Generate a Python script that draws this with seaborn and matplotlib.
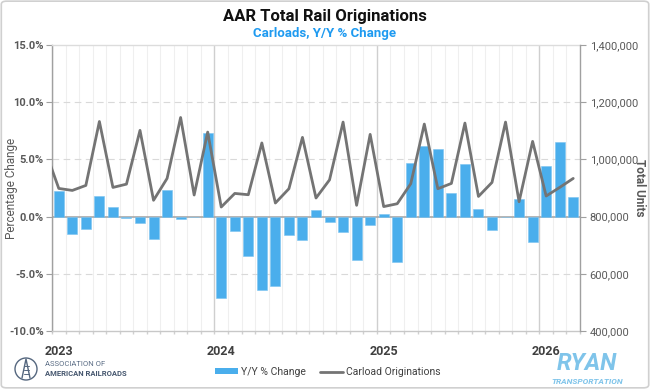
import matplotlib
matplotlib.use("Agg")
import matplotlib.pyplot as plt
import seaborn as sns
import pandas as pd
from matplotlib.patches import FancyBboxPatch, Circle, Patch
from matplotlib.lines import Line2D
from matplotlib import font_manager

# ---------------- data ----------------
months = pd.date_range("2023-01-01", periods=39, freq="MS").strftime("%Y-%m").tolist()
yoy_pct = [2.2, -1.5, -1.1, 1.8, 0.8, -0.1, -0.55, -1.95, 2.3, -0.25, 0.0, 7.3,
           -7.15, -1.25, -3.45, -6.4, -6.05, -1.6, -2.05, 0.6, -0.45, -1.35, -3.75, -0.7,
           0.2, -3.95, 4.65, 6.2, 5.95, 2.1, 4.6, 0.7, -1.15, 0.0, 1.5, -2.25,
           4.4, 6.5, 1.75]
line_months = ["2022-12"] + months
carloads = [1031000,
            898500, 891500, 909000, 1132500, 902000, 913500, 1101500, 857000, 933500, 1146500, 875500, 1095500,
            833500, 881000, 876500, 1057500, 847500, 897500, 1077000, 865000, 928500, 1130500, 839500, 1087500,
            835000, 845000, 915000, 1123500, 897500, 916000, 1127000, 870500, 919500, 1130500, 852000, 1063000,
            872000, 902000, 933500]
year_labels = ["2023", "2024", "2025", "2026"]
left_ticks = [-10, -5, 0, 5, 10, 15]
right_ticks = [400000, 600000, 800000, 1000000, 1200000, 1400000]

BAR_C = "#4aaeec"
LINE_C = "#747474"
TXT_C = "#595959"

sns.set_theme(style="white")
avail = {f.name for f in font_manager.fontManager.ttflist}
fam = [f for f in ["Liberation Sans Narrow", "Roboto", "DejaVu Sans"] if f in avail]
plt.rcParams["font.family"] = fam

W, H = 650, 389
fig = plt.figure(figsize=(6.5, 3.89), dpi=100)
L, R, T, B = 52, 580, 45, 331
ax = fig.add_axes([L / W, 1 - B / H, (R - L) / W, (B - T) / H])

df = pd.DataFrame({"idx": list(range(len(months))), "month": months, "yoy": yoy_pct})
sns.barplot(data=df, x="idx", y="yoy", color=BAR_C, saturation=1, width=0.74,
            ax=ax, zorder=3, edgecolor="#7cc4f0", linewidth=0.4)

ax2 = ax.twinx()
ldf = pd.DataFrame({"pos": list(range(-1, len(months))), "month": line_months, "units": carloads})
sns.lineplot(data=ldf, x="pos", y="units", color=LINE_C, lw=2, ax=ax2, zorder=5)

ax.set_xlim(-0.5, len(months) - 0.5)
ax.set_ylim(-10, 15)
ax2.set_ylim(400000, 1400000)

# grid
for k in range(len(months) + 1):
    pos = k - 0.5
    yr = (k % 12 == 0)
    ax.axvline(pos, color="#cfcfcf" if yr else "#efefef", lw=1.0 if yr else 0.8, zorder=0)
for v in [-5, 5, 10]:
    ax.axhline(v, color="#d9d9d9", lw=0.8, ls=(0, (6, 4)), zorder=0)
ax.axhline(0, color="#a8a8a8", lw=1.2, zorder=2)

# spines
ax.spines["left"].set_color("#a0a0a0"); ax.spines["left"].set_linewidth(1)
ax.spines["top"].set_color("#dcdcdc"); ax.spines["top"].set_linewidth(1)
ax.spines["bottom"].set_color("#c8c8c8"); ax.spines["bottom"].set_linewidth(1)
ax.spines["right"].set_visible(False)
for s in ["left", "top", "bottom"]:
    ax2.spines[s].set_visible(False)
ax2.spines["right"].set_color("#a0a0a0"); ax2.spines["right"].set_linewidth(1)

# ticks
ax.set_yticks(left_ticks)
ax.set_yticklabels([f"{v:.1f}%" for v in left_ticks], fontsize=8, fontweight="bold", color=TXT_C)
ax.tick_params(axis="y", length=4, width=0.8, color="#a0a0a0", pad=2, left=True)
ax2.set_yticks(right_ticks)
ax2.set_yticklabels([f"{v:,}" for v in right_ticks], fontsize=8, color=TXT_C)
ax2.tick_params(axis="y", length=4, width=0.8, color="#a0a0a0", pad=3, right=True)

ax.set_xticks([0, 12, 24, 36])
ax.set_xticklabels(year_labels, fontsize=9, fontweight="bold", color="#404040")
ax.tick_params(axis="x", length=0, pad=10)
ax.set_xticks([k - 0.5 for k in range(len(months) + 1)], minor=True)
ax.tick_params(axis="x", which="minor", length=2, color="#d0d0d0", bottom=True)

ax.set_xlabel("")
ax.set_ylabel("")
ax2.set_xlabel("")
ax2.set_ylabel("")

fig.text(12 / W, 1 - 188 / H, "Percentage Change", rotation=90, ha="center", va="center",
         fontsize=8.5, color=TXT_C)
fig.text(640 / W, 1 - 188 / H, "Total Units", rotation=270, ha="center", va="center",
         fontsize=8.5, fontweight="bold", color=TXT_C)

# titles
fig.text(0.5, 1 - 17 / H, "AAR Total Rail Originations", ha="center", va="center",
         fontsize=12, fontweight="bold", color="#111111")
fig.text(0.5, 1 - 34 / H, "Carloads, Y/Y % Change", ha="center", va="center",
         fontsize=9.5, fontweight="bold", color="#1e9af0")

# legend
handles = [Patch(facecolor=BAR_C, edgecolor="none", label="Y/Y % Change"),
           Line2D([0], [0], color=LINE_C, lw=2, label="Carload Originations")]
fig.legend(handles=handles, loc="center", bbox_to_anchor=(328 / W, 1 - 372 / H), ncol=2,
           frameon=False, fontsize=7.5, handlelength=2.2, handleheight=0.5, columnspacing=1.4,
           handletextpad=0.3, labelcolor="#404040")

# AAR logo
logo_ax = fig.add_axes([0, 0, 1, 1], zorder=-1)
logo_ax.set_xlim(0, W); logo_ax.set_ylim(H, 0); logo_ax.axis("off")
logo_ax.add_patch(Circle((26, 369), 11, fill=False, ec="#55677f", lw=1.0))
logo_ax.plot([22, 26, 30], [378, 359, 378], color="#55677f", lw=1.0)
for yy in [366, 370, 374]:
    logo_ax.plot([23.5, 28.5], [yy, yy], color="#55677f", lw=0.7)
fig.text(45 / W, 1 - 364 / H, "ASSOCIATION OF", fontsize=5.5, color="#5b6d85", va="center")
fig.text(45 / W, 1 - 374 / H, "AMERICAN RAILROADS", fontsize=5.5, fontweight="bold",
         color="#45566e", va="center")

# RYAN logo
fig.text(587 / W, 1 - 364 / H, "RYAN", fontsize=17, fontweight="bold", style="italic",
         color="#7fc4ea", ha="center", va="center")
fig.text(587 / W, 1 - 381 / H, "TRANSPORTATION", fontsize=6, fontweight="bold", style="italic",
         color="#7fc4ea", ha="center", va="center")

# figure border
fig.patches.append(FancyBboxPatch((0.002, 0.003), 0.996, 0.994,
                                  boxstyle="round,pad=0,rounding_size=0.008",
                                  transform=fig.transFigure, fill=False,
                                  edgecolor="#d0d0d0", lw=1.2))

fig.savefig("out.png", dpi=100)
